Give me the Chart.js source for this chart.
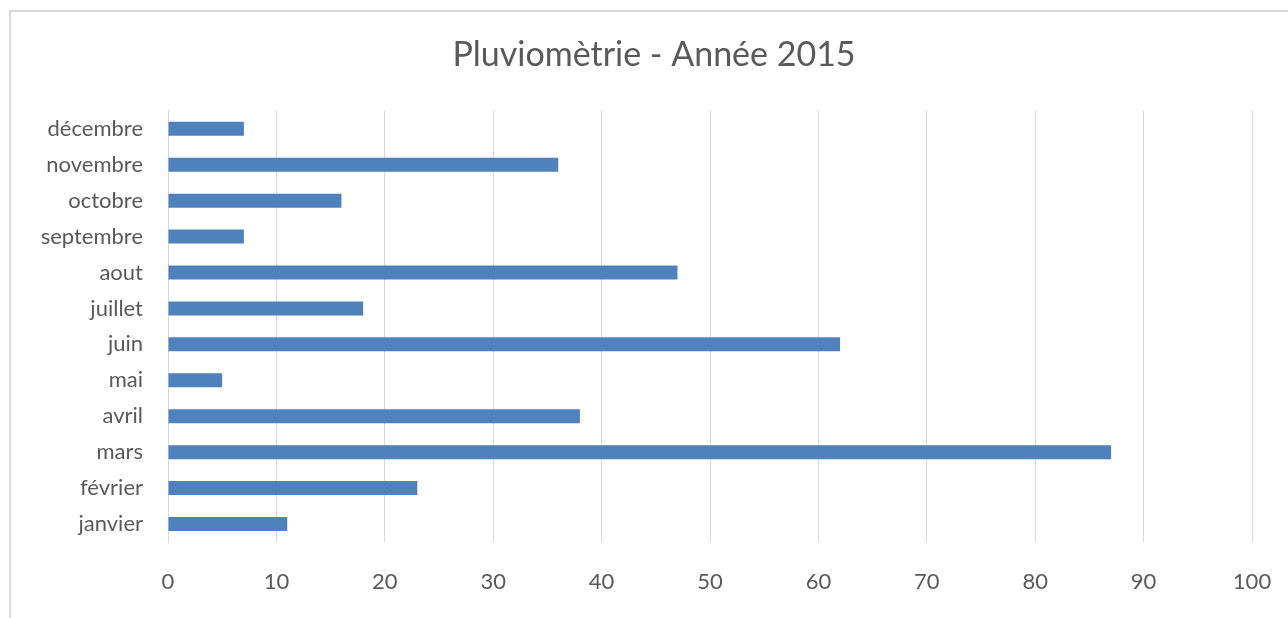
<!DOCTYPE html>
<html>
<head>
<meta charset="utf-8">
<script src="https://cdn.jsdelivr.net/npm/chart.js@4"></script>
<style>
  body { margin: 0; background: #fff; overflow: hidden; }
  #frame { position: absolute; left: 9px; top: 10px; width: 1300px; height: 640px; border: 2px solid #d9d9d9; box-sizing: border-box; }
  #wrap { position: absolute; left: 0; top: 0; width: 1288px; height: 618px; }
</style>
</head>
<body>
<div id="frame"></div>
<div id="wrap"><canvas id="rainChart"></canvas></div>
<script>
const months = ['janvier', 'février', 'mars', 'avril', 'mai', 'juin', 'juillet', 'aout', 'septembre', 'octobre', 'novembre', 'décembre'];
const rainfall = [11, 23, 87, 38, 5, 62, 18, 47, 7, 16, 36, 7];
const chartTitle = 'Pluviomètrie - Année 2015';

const ctx = document.getElementById('rainChart').getContext('2d');

new Chart(ctx, {
    type: 'bar',
    data: {
        labels: months,
        datasets: [{
            data: rainfall,
            backgroundColor: '#4f81bd',
            barPercentage: 0.39,
            categoryPercentage: 1
        }]
    },
    options: {
        indexAxis: 'y',
        animation: false,
        responsive: true,
        maintainAspectRatio: false,
        layout: { padding: { left: 36, right: 16, top: 0, bottom: 16 } },
        plugins: {
            legend: { display: false },
            tooltip: { enabled: false },
            title: {
                display: true,
                text: chartTitle,
                color: '#595959',
                font: { family: 'Lato', size: 34, weight: 'normal' },
                padding: { top: 35, bottom: 35 }
            }
        },
        scales: {
            x: {
                min: 0,
                max: 100,
                ticks: { stepSize: 10, color: '#595959', padding: 27, font: { family: 'Lato', size: 22 } },
                grid: { color: '#d9d9d9', drawTicks: false },
                border: { display: false },
                afterFit: (scale) => {
                    scale.height = 60;
                    scale.paddingLeft = 0;
                    // keeps room for the "100" label, plot ends near x=1252
                    scale.paddingRight = 36;
                }
            },
            y: {
                reverse: true,
                ticks: { color: '#595959', padding: 25, font: { family: 'Lato', size: 22 } },
                grid: { display: false, drawTicks: false },
                border: { color: '#d9d9d9' },
                afterFit: (scale) => { scale.width = 132; }
            }
        }
    }
});
</script>
</body>
</html>
